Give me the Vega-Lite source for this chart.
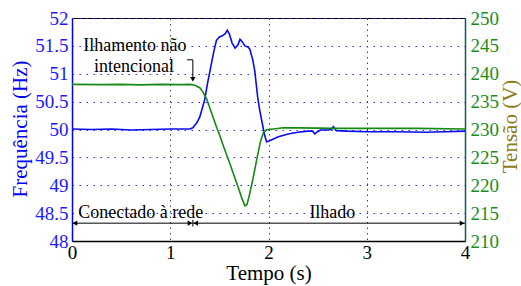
{
  "$schema": "https://vega.github.io/schema/vega-lite/v6.json",
  "width": 393,
  "height": 223,
  "autosize": "none",
  "padding": {"left": 72, "top": 18, "right": 56, "bottom": 45},
  "background": "white",
  "config": {
    "view": {"stroke": "black", "strokeWidth": 1},
    "font": "Liberation Serif",
    "axis": {"labelFont": "Liberation Serif", "titleFont": "Liberation Serif", "titleFontWeight": "normal", "labelFlush": false, "labelOverlap": false, "labelBound": false, "ticks": false}
  },
  "datasets": {
    "freq": [
      {"t": 0, "f": 50.01}, {"t": 0.2, "f": 50.0}, {"t": 0.4, "f": 50.01}, {"t": 0.6, "f": 49.99}, {"t": 0.8, "f": 50.0}, {"t": 1.0, "f": 50.01}, {"t": 1.2, "f": 50.01},
      {"t": 1.23, "f": 50.03}, {"t": 1.27, "f": 50.12}, {"t": 1.3, "f": 50.22}, {"t": 1.35, "f": 50.53}, {"t": 1.38, "f": 50.83}, {"t": 1.41, "f": 51.1}, {"t": 1.44, "f": 51.37}, {"t": 1.47, "f": 51.6},
      {"t": 1.5, "f": 51.66}, {"t": 1.53, "f": 51.68}, {"t": 1.56, "f": 51.72}, {"t": 1.58, "f": 51.78}, {"t": 1.6, "f": 51.72}, {"t": 1.63, "f": 51.55}, {"t": 1.66, "f": 51.46}, {"t": 1.69, "f": 51.52},
      {"t": 1.71, "f": 51.62}, {"t": 1.73, "f": 51.58}, {"t": 1.76, "f": 51.5}, {"t": 1.79, "f": 51.48}, {"t": 1.81, "f": 51.44}, {"t": 1.84, "f": 51.25}, {"t": 1.86, "f": 51.05}, {"t": 1.89, "f": 50.58},
      {"t": 1.91, "f": 50.35}, {"t": 1.93, "f": 50.17}, {"t": 1.96, "f": 49.9}, {"t": 1.98, "f": 49.78}, {"t": 2.0, "f": 49.79}, {"t": 2.05, "f": 49.83}, {"t": 2.1, "f": 49.87}, {"t": 2.2, "f": 49.92},
      {"t": 2.3, "f": 49.95}, {"t": 2.4, "f": 49.97}, {"t": 2.45, "f": 49.97}, {"t": 2.47, "f": 49.92}, {"t": 2.5, "f": 49.96}, {"t": 2.53, "f": 49.99}, {"t": 2.6, "f": 49.99}, {"t": 2.64, "f": 50.0},
      {"t": 2.66, "f": 50.05}, {"t": 2.69, "f": 49.98}, {"t": 2.8, "f": 49.97}, {"t": 3.0, "f": 49.96}, {"t": 3.3, "f": 49.96}, {"t": 3.6, "f": 49.95}, {"t": 3.8, "f": 49.96}, {"t": 4.0, "f": 49.97}
    ],
    "volt": [
      {"t": 0, "v": 238.1}, {"t": 0.3, "v": 238.05}, {"t": 0.5, "v": 238.1}, {"t": 0.7, "v": 238.0}, {"t": 0.9, "v": 238.1}, {"t": 1.1, "v": 238.05}, {"t": 1.2, "v": 238.1},
      {"t": 1.25, "v": 237.95}, {"t": 1.3, "v": 237.5}, {"t": 1.33, "v": 236.8}, {"t": 1.37, "v": 235.5}, {"t": 1.42, "v": 233.0}, {"t": 1.47, "v": 230.5}, {"t": 1.5, "v": 229.1},
      {"t": 1.55, "v": 226.6}, {"t": 1.6, "v": 224.2}, {"t": 1.65, "v": 221.7}, {"t": 1.7, "v": 219.2}, {"t": 1.73, "v": 217.6}, {"t": 1.76, "v": 216.3}, {"t": 1.78, "v": 216.5},
      {"t": 1.8, "v": 217.8}, {"t": 1.84, "v": 221.0}, {"t": 1.88, "v": 224.6}, {"t": 1.92, "v": 228.0}, {"t": 1.95, "v": 229.5}, {"t": 1.98, "v": 229.95}, {"t": 2.05, "v": 230.1},
      {"t": 2.15, "v": 230.3}, {"t": 2.3, "v": 230.3}, {"t": 2.5, "v": 230.25}, {"t": 2.65, "v": 230.2}, {"t": 3.0, "v": 230.2}, {"t": 3.5, "v": 230.2}, {"t": 4.0, "v": 230.1}
    ],
    "rules": [
      {"x": 0, "x2": 1.23, "y": 48.32, "y2": 48.32},
      {"x": 1.23, "x2": 4, "y": 48.32, "y2": 48.32},
      {"x": 1.23, "x2": 1.23, "y": 48.26, "y2": 48.38},
      {"x": 1.17, "x2": 1.23, "y": 51.25, "y2": 51.25},
      {"x": 1.23, "x2": 1.23, "y": 51.25, "y2": 50.88}
    ],
    "heads": [
      {"x": 0.03, "y": 48.32, "dir": "triangle-left"},
      {"x": 1.2, "y": 48.32, "dir": "triangle-right"},
      {"x": 1.26, "y": 48.32, "dir": "triangle-left"},
      {"x": 3.97, "y": 48.32, "dir": "triangle-right"},
      {"x": 1.23, "y": 50.9, "dir": "triangle-down"}
    ],
    "labels": [
      {"x": 0.64, "y": 51.5, "label": "Ilhamento não"},
      {"x": 0.63, "y": 51.13, "label": "intencional"},
      {"x": 0.7, "y": 48.5, "label": "Conectado à rede"},
      {"x": 2.65, "y": 48.5, "label": "Ilhado"}
    ]
  },
  "layer": [
    {
      "data": {"name": "freq"},
      "mark": {"type": "line", "color": "#0a0af0", "strokeWidth": 1.6},
      "encoding": {
        "x": {"field": "t", "type": "quantitative", "scale": {"domain": [0, 4], "nice": false},
          "axis": {"values": [0, 1, 2, 3, 4], "format": "d", "labelColor": "black", "labelFontSize": 19, "labelPadding": 2, "domainColor": "black", "domainWidth": 1.5,
            "grid": true, "gridColor": "#444444", "gridDash": [1.5, 4], "gridWidth": 1,
            "title": "Tempo (s)", "titleFontSize": 21, "titleColor": "black", "titleY": 32, "titleBaseline": "middle"}},
        "y": {"field": "f", "type": "quantitative", "scale": {"domain": [48, 52], "nice": false, "zero": false},
          "axis": {"orient": "left", "values": [48, 48.5, 49, 49.5, 50, 50.5, 51, 51.5, 52], "format": ".1~f", "labelColor": "#1a1aff", "labelFontSize": 19, "labelPadding": 4,
            "domainColor": "#0000ff", "domainWidth": 1.5, "grid": true, "gridColor": "#2a2aff", "gridDash": [1.5, 5.5], "gridWidth": 1,
            "title": "Frequência (Hz)", "titleColor": "#0000ff", "titleFontSize": 21, "titleX": -52, "titleY": 110.5, "titleAngle": -90, "titleBaseline": "middle", "titleAlign": "center"}}
      }
    },
    {
      "data": {"name": "volt"},
      "mark": {"type": "line", "color": "#138a13", "strokeWidth": 1.6},
      "encoding": {
        "x": {"field": "t", "type": "quantitative", "scale": {"domain": [0, 4], "nice": false}},
        "y": {"field": "v", "type": "quantitative", "scale": {"domain": [210, 250], "nice": false, "zero": false},
          "axis": {"orient": "right", "values": [210, 215, 220, 225, 230, 235, 240, 245, 250], "labelColor": "#1c8c1c", "labelFontSize": 19, "labelPadding": 5,
            "domainColor": "#0f5a5a", "domainWidth": 1.5, "grid": false,
            "title": "Tensão (V)", "titleColor": "#8c7b1a", "titleFontSize": 21, "titleX": 45, "titleY": 108, "titleAngle": -90, "titleBaseline": "middle", "titleAlign": "center"}}
      }
    },
    {
      "data": {"name": "rules"},
      "mark": {"type": "rule", "color": "black", "strokeWidth": 1},
      "encoding": {
        "x": {"field": "x", "type": "quantitative", "scale": {"domain": [0, 4], "nice": false}},
        "x2": {"field": "x2"},
        "y": {"field": "y", "type": "quantitative", "scale": {"domain": [48, 52], "nice": false, "zero": false}, "axis": null},
        "y2": {"field": "y2"}
      }
    },
    {
      "data": {"name": "heads"},
      "mark": {"type": "point", "filled": true, "color": "black", "size": 28, "opacity": 1},
      "encoding": {
        "x": {"field": "x", "type": "quantitative", "scale": {"domain": [0, 4], "nice": false}},
        "y": {"field": "y", "type": "quantitative", "scale": {"domain": [48, 52], "nice": false, "zero": false}, "axis": null},
        "shape": {"field": "dir", "type": "nominal", "scale": null, "legend": null}
      }
    },
    {
      "data": {"name": "labels"},
      "mark": {"type": "text", "font": "Liberation Serif", "fontSize": 18, "color": "black", "align": "center", "baseline": "middle"},
      "encoding": {
        "x": {"field": "x", "type": "quantitative", "scale": {"domain": [0, 4], "nice": false}},
        "y": {"field": "y", "type": "quantitative", "scale": {"domain": [48, 52], "nice": false, "zero": false}, "axis": null},
        "text": {"field": "label", "type": "nominal"}
      }
    }
  ],
  "resolve": {"scale": {"y": "independent"}, "axis": {"y": "independent"}}
}
